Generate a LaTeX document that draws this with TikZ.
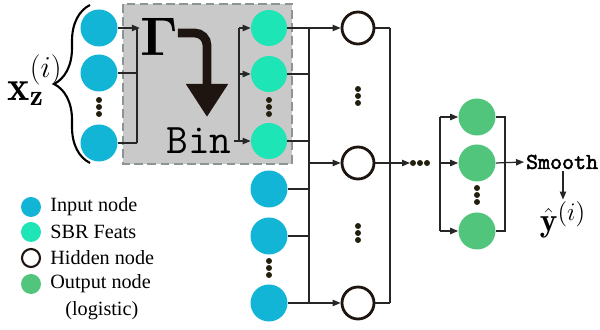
\documentclass[tikz,border=0pt]{standalone}
\usepackage{fontspec}
\usepackage{amsmath}
\newfontfamily\legendfont{Liberation Serif}
\newfontfamily\smoothfont{lmmono10-regular.otf}[FakeBold=2]
\newfontfamily\gamfont{lmroman10-bold.otf}
\usetikzlibrary{arrows.meta,decorations.pathreplacing}

\definecolor{inblue}{HTML}{12B5D5}
\definecolor{sbrgreen}{HTML}{1DE5B5}
\definecolor{outgreen}{HTML}{50C57B}
\definecolor{boxgrey}{HTML}{C9C9C9}
\definecolor{boxedge}{HTML}{8C9494}
\definecolor{dotc}{HTML}{231F0F}
\definecolor{hidc}{HTML}{1E1410}

\tikzset{
  innode/.style={circle,fill=inblue,minimum size=0.74cm,inner sep=0pt},
  sbrnode/.style={circle,fill=sbrgreen,minimum size=0.72cm,inner sep=0pt},
  hidnode/.style={circle,draw=hidc,line width=1.6pt,fill=white,minimum size=0.64cm,inner sep=0pt},
  outnode/.style={circle,fill=outgreen,minimum size=0.74cm,inner sep=0pt},
  wire/.style={line width=0.7pt,draw=black!85},
  arr/.style={wire,-{Triangle[length=4.5pt,width=3.6pt]}},
  vdots/.pic={\foreach \d in {-7,0,7} \fill[dotc] (0,\d) circle (1.7pt);},
  hdots/.pic={\foreach \d in {-7,0,7} \fill[dotc] (\d,0) circle (1.7pt);}
}

\begin{document}
\begin{tikzpicture}[x=0.02cm,y=-0.02cm]
    \useasboundingbox (0,0) rectangle (600,330);

    % Grey box around the SBR transform
    \draw[boxedge,fill=boxgrey,dashed,line width=1.3pt,dash pattern=on 5pt off 2.5pt]
      (123,4) rectangle (292,164);

    % Input nodes of x_z
    \node[innode] (i1) at (99,28) {};
    \node[innode] (i2) at (99,73) {};
    \node[innode] (i3) at (99,143) {};
    \pic at (99,107) {vdots};

    % Brace and label
    \draw[decorate,decoration={brace,amplitude=0.72cm},line width=1.2pt] (90,163) -- (90,5);
    \node (xlab) at (35,80) {\fontsize{24}{28}\selectfont$\mathbf{x}_{\mathbf{z}}^{(i)}$};

    % Gamma, bent arrow and Bin
    \node[inner sep=0pt] (gam) at (159,37) {\fontsize{31}{31}\selectfont\gamfont Γ};
    \node[inner sep=1pt] (bin) at (199,141) {\fontsize{24}{28}\selectfont\ttfamily Bin};
    \draw[hidc,line width=5pt,rounded corners=7pt,
          -{Triangle[length=0.66cm,width=0.8cm]}]
      (178,33) -- (207,33) -- (207,117);

    % SBR features
    \node[sbrnode] (s1) at (269,28) {};
    \node[sbrnode] (s2) at (269,74) {};
    \node[sbrnode] (s3) at (269,141) {};
    \pic at (269,107) {vdots};

    % Remaining input nodes
    \node[innode] (b1) at (269,189) {};
    \node[innode] (b2) at (269,236) {};
    \node[innode] (b3) at (269,303) {};
    \pic at (269,268) {vdots};

    % Hidden layer
    \node[hidnode] (h1) at (358,28) {};
    \node[hidnode] (h2) at (358,163) {};
    \node[hidnode] (h3) at (358,303) {};
    \pic at (358,96) {vdots};
    \pic at (358,233) {vdots};
    \pic at (420,163) {hdots};
    \coordinate (hd) at (410,163);

    % Output layer
    \node[outnode] (o1) at (477,117) {};
    \node[outnode] (o2) at (477,163) {};
    \node[outnode] (o3) at (477,231) {};
    \pic at (477,195) {vdots};

    \node[inner sep=1pt,anchor=west] (smooth) at (524,162) {\fontsize{13}{15}\selectfont\smoothfont Smooth};
    \node[inner sep=1pt] (yhat) at (563,220) {\fontsize{19}{22}\selectfont$\hat{\mathbf{y}}^{(i)}$};

    % Bus positions
    \coordinate (busA) at (137,0);
    \coordinate (busB) at (239,0);
    \coordinate (busC) at (309,0);
    \coordinate (busD) at (390,0);
    \coordinate (busE) at (440,0);
    \coordinate (busF) at (505,0);

    % Inputs into Gamma
    \foreach \n in {i1,i2,i3}
      \draw[wire] (\n.east) -- (\n.east -| busA);
    \draw[wire] (i1.east -| busA) -- (i3.east -| busA);
    \draw[arr] (i1.east -| busA) -- (gam.west |- i1);

    % Bin into SBR features
    \draw[wire] (bin.east |- s3) -- (s3 -| busB);
    \draw[wire] (s1 -| busB) -- (s3 -| busB);
    \foreach \n in {s1,s2,s3}
      \draw[arr] (\n -| busB) -- (\n.west);

    % Into hidden layer
    \foreach \n in {s1,s2,s3,b1,b2,b3}
      \draw[wire] (\n.east) -- (\n.east -| busC);
    \draw[wire] (s1 -| busC) -- (b3 -| busC);
    \foreach \n in {h1,h2,h3}
      \draw[arr] (\n -| busC) -- (\n.west);

    % Out of hidden layer
    \foreach \n in {h1,h2,h3}
      \draw[wire] (\n.east) -- (\n.east -| busD);
    \draw[wire] (h1 -| busD) -- (h3 -| busD);
    \draw[arr] (h2 -| busD) -- (hd);

    % Output layer
    \draw[wire] (o1 -| busE) -- (o3 -| busE);
    \foreach \n in {o1,o2,o3}
      \draw[arr] (\n -| busE) -- (\n.west);
    \draw[wire] (o1.east) -- (o1.east -| busF) -- (o3.east -| busF) -- (o3.east);
    \draw[arr] (o2.east) -- (smooth.west);
    \draw[arr] (smooth.south -| yhat) -- (yhat.north);

    % Legend
    \node[circle,fill=inblue,minimum size=0.4cm,inner sep=0pt] (l1) at (31,207) {};
    \node[circle,fill=sbrgreen,minimum size=0.4cm,inner sep=0pt] (l2) at (31,232) {};
    \node[circle,draw=hidc,line width=1.2pt,fill=white,minimum size=0.36cm,inner sep=0pt] (l3) at (31,258) {};
    \node[circle,fill=outgreen,minimum size=0.4cm,inner sep=0pt] (l4) at (31,284) {};
    \begin{scope}[every node/.style={anchor=west,inner sep=0pt,font=\legendfont\fontsize{11.5}{13}\selectfont}]
      \node at (50,207) {Input node};
      \node at (50,232) {SBR Feats};
      \node at (50,258) {Hidden node};
      \node at (50,284) {Output node};
      \node at (65,311) {(logistic)};
    \end{scope}
\end{tikzpicture}
\end{document}
